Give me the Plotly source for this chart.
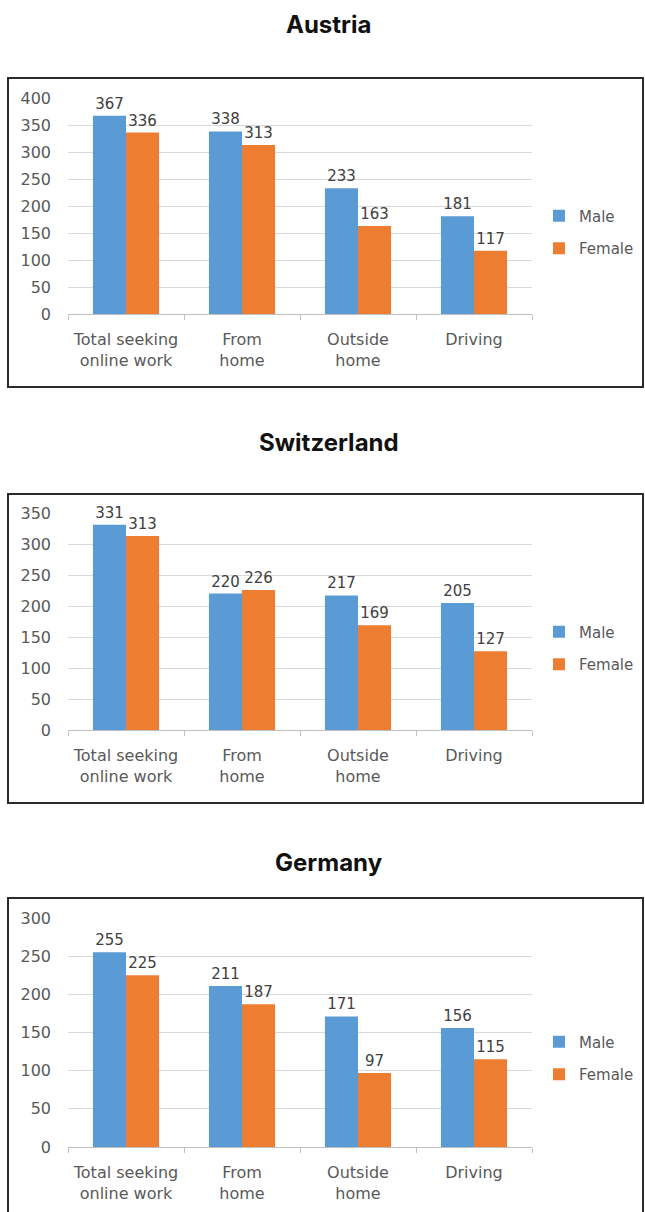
import plotly.graph_objects as go

categories = ["Total seeking<br>online work", "From<br>home", "Outside<br>home", "Driving"]
countries = ["Austria", "Switzerland", "Germany"]

austria_male = [367, 338, 233, 181]
austria_female = [336, 313, 163, 117]
switzerland_male = [331, 220, 217, 205]
switzerland_female = [313, 226, 169, 127]
germany_male = [255, 211, 171, 156]
germany_female = [225, 187, 97, 115]

y_ranges = [400, 350, 300]

W, H = 645, 1212
BLUE = "#5B9BD5"
ORANGE = "#ED7D31"
FONT = "DejaVu Sans"


def py(p):
    """pixel row -> paper y"""
    return 1 - p / H


# pixel layout of each panel: title y, box top/bottom, plot top/bottom, legend centre
panels = [
    dict(title=25, box=(78, 387), plot=(98, 314), leg=232),
    dict(title=443, box=(494, 803), plot=(513, 730), leg=648),
    dict(title=862, box=(898, 1216), plot=(918, 1147), leg=1058),
]
series = [
    (austria_male, austria_female),
    (switzerland_male, switzerland_female),
    (germany_male, germany_female),
]

fig = go.Figure()
layout = dict(
    width=W, height=H,
    margin=dict(l=0, r=0, t=0, b=0, autoexpand=False),
    paper_bgcolor="white", plot_bgcolor="white",
    barmode="group", bargap=0.43, bargroupgap=0,
    annotations=[], shapes=[],
)

for i, (name, p, (male, female)) in enumerate(zip(countries, panels, series)):
    n = "" if i == 0 else str(i + 1)
    leg = "legend" + n
    for label, vals, col in [("Male", male, BLUE), ("Female", female, ORANGE)]:
        fig.add_trace(go.Bar(
            x=categories, y=vals, name=label,
            # invisible outline only widens the gap to the value labels
            marker=dict(color=col, line=dict(width=8, color="rgba(0,0,0,0)")),
            text=[str(v) for v in vals], textposition="outside",
            textfont=dict(family=FONT, size=15, color="#404040"),
            constraintext="none", cliponaxis=False,
            xaxis="x" + n, yaxis="y" + n, legend=leg,
            legendgroup=f"{label}{i}",
        ))
    layout["xaxis" + n] = dict(
        domain=[68 / W, 532 / W], anchor="y" + n,
        showline=True, linecolor="#BFBFBF", linewidth=1,
        ticks="outside", tickson="boundaries", ticklen=5, tickcolor="#BFBFBF",
        ticklabelstandoff=11, automargin=False,
        tickfont=dict(family=FONT, size=16, color="#595959"),
        showgrid=False, fixedrange=True,
    )
    layout["yaxis" + n] = dict(
        domain=[py(p["plot"][1]), py(p["plot"][0])], anchor="x" + n,
        range=[0, y_ranges[i]], dtick=50,
        showgrid=True, gridcolor="#D9D9D9", gridwidth=1,
        zeroline=False, showline=False, ticks="",
        ticklabelstandoff=16, automargin=False,
        tickfont=dict(family=FONT, size=16, color="#595959"),
        fixedrange=True,
    )
    layout[leg] = dict(
        x=539 / W, xanchor="left", y=py(p["leg"]), yanchor="middle",
        traceorder="grouped", tracegroupgap=10, itemwidth=30,
        font=dict(family=FONT, size=15, color="#595959"),
        bgcolor="rgba(0,0,0,0)",
    )
    layout["annotations"].append(dict(
        text=f"<b>{name}</b>", x=329 / W, y=py(p["title"]),
        xref="paper", yref="paper", showarrow=False,
        xanchor="center", yanchor="middle",
        font=dict(family="Inter", size=24, color="#111111"),
    ))
    layout["shapes"].append(dict(
        type="rect", xref="paper", yref="paper",
        x0=8 / W, x1=643 / W, y0=py(p["box"][1]), y1=py(p["box"][0]),
        line=dict(color="#2B2B2B", width=2), fillcolor="rgba(0,0,0,0)",
        layer="below",
    ))

fig.update_layout(**layout)
# drop the default 8px body margin so the figure fills the window exactly
fig.write_html("out.html", config={"displayModeBar": False},
               post_script="document.body.style.margin='0';")
